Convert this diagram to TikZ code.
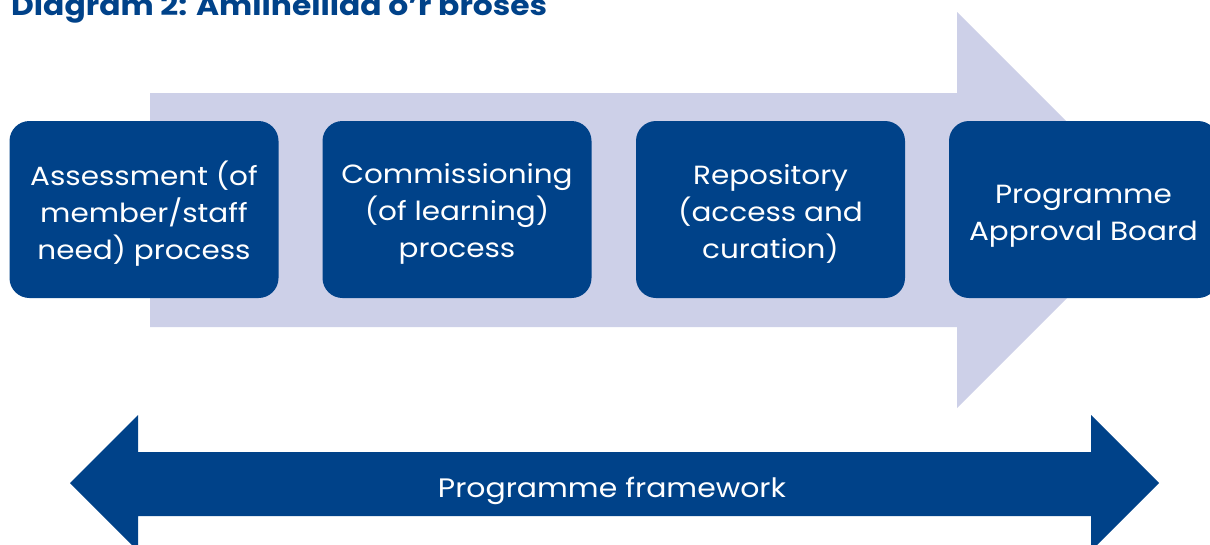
\documentclass[tikz,border=0pt]{standalone}
\usepackage{fontspec}
\setmainfont{Poppins}[FakeStretch=1.12]
\definecolor{navy}{RGB}{0,66,137}
\definecolor{lilac}{RGB}{205,208,232}
\tikzset{
  stagebox/.style={fill=navy, rounded corners=20pt, minimum width=269pt, minimum height=177pt,
    inner sep=0pt},
  stagetext/.style={inner sep=0pt, text=white, align=center, font=\fontsize{26.3}{37}\selectfont},
  bandtext/.style={text=white, font=\fontsize{26.7}{32}\selectfont},
  titletext/.style={text=navy, font=\fontsize{28}{32}\selectfont\bfseries}
}
\begin{document}
\begin{tikzpicture}[x=1pt,y=-1pt]
\useasboundingbox (0,0) rectangle (1210,544);
\clip (0,0) rectangle (1210,544);
\fill[white] (0,0) rectangle (1210,544);
% light process arrow
\fill[lilac] (150,93) -- (957,93) -- (957,12) -- (1155,210) -- (957,408) -- (957,327) -- (150,327) -- cycle;
% stage boxes
\node[stagebox] (assess) at (144,209.5) {};
\node[stagebox] (commission) at (457,209.5) {};
\node[stagebox] (repo) at (770.5,209.5) {};
\node[stagebox] (board) at (1083.5,209.5) {};
\node[stagetext] (assess-t) at ([yshift=-4pt]assess.center) {Assessment (of\\member/staff\\need) process};
\node[stagetext] (commission-t) at ([yshift=-4pt]commission.center) {Commissioning\\(of learning)\\process};
\node[stagetext] (repo-t) at ([yshift=-4pt]repo.center) {Repository\\(access and\\curation)};
\node[stagetext] (board-t) at ([yshift=-7pt]board.center) {Programme\\Approval Board};
% double arrow
\fill[navy] (70,483) -- (138,415) -- (138,452) -- (1091,452) -- (1091,415) -- (1159,483)
  -- (1091,551) -- (1091,516) -- (138,516) -- (138,551) -- cycle;
\node[bandtext, anchor=base] (frame) at (612,497) {Programme framework};
% title
\node[titletext, anchor=base west, inner sep=0pt] (title) at (11,15) {Diagram 2: Amlinelliad o’r broses};
\end{tikzpicture}
\end{document}
